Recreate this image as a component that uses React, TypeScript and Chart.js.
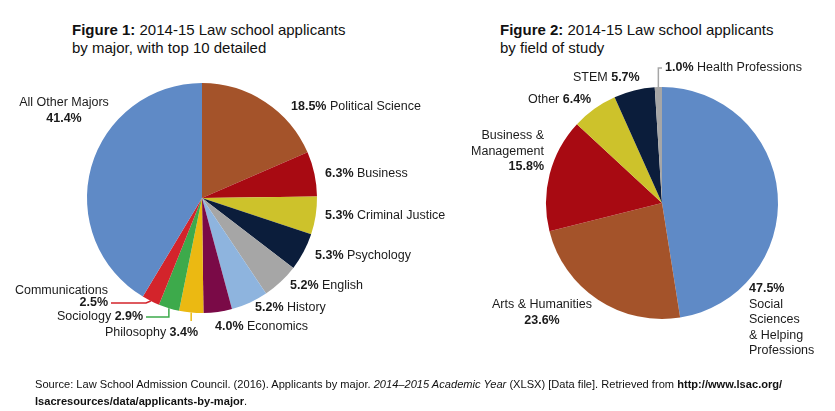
import React, { useEffect, useRef } from "react";
import { Chart, registerables } from "chart.js";
Chart.register(...registerables);

// ---------- DATA ----------
const majorNames = [
  "Political Science", "Business", "Criminal Justice", "Psychology", "English",
  "History", "Economics", "Philosophy", "Sociology", "Communications", "All Other Majors",
];
const majorValues = [18.5, 6.3, 5.3, 5.3, 5.2, 5.2, 4.0, 3.4, 2.9, 2.5, 41.4];

const fieldNames = [
  "Social Sciences & Helping Professions", "Arts & Humanities", "Business & Management",
  "Other", "STEM", "Health Professions",
];
const fieldValues = [47.5, 23.6, 15.8, 6.4, 5.7, 1.0];

// ---------- STYLES ----------
const majorColors = [
  "#A4532A", "#A80A12", "#CDC22B", "#0B1D3B", "#A6A6A6",
  "#8EB4DE", "#7A0A47", "#EBB912", "#3DAA4B", "#D3242B", "#5F8AC6",
];
const fieldColors = ["#5F8AC6", "#A4532A", "#A80A12", "#CDC22B", "#0B1D3B", "#A6A6A6"];

const FONT = "'Liberation Sans', Arial, sans-serif";
const LABEL_SIZE = 12.5;
const TEXT_COLOR = "#1b1b1b";

type Pt = { x?: number; y?: number };
type Layout = {
  kind: "pctFirst" | "nameFirst" | "stack";
  x: number;
  y: number;
  align: "left" | "right" | "center";
  lh?: number;
  nameLines?: string[];
  leader?: Pt[];
};

const majorLayout: Layout[] = [
  { kind: "pctFirst", x: 291, y: 107, align: "left" },
  { kind: "pctFirst", x: 325, y: 174, align: "left" },
  { kind: "pctFirst", x: 325, y: 216, align: "left" },
  { kind: "pctFirst", x: 315, y: 256, align: "left" },
  { kind: "pctFirst", x: 290, y: 286, align: "left" },
  { kind: "pctFirst", x: 255, y: 308, align: "left" },
  { kind: "pctFirst", x: 215, y: 327, align: "left" },
  { kind: "nameFirst", x: 105, y: 333, align: "left", leader: [{ y: 321 }] },
  { kind: "nameFirst", x: 57, y: 317, align: "left", leader: [{ y: 317 }, { x: 146 }] },
  { kind: "stack", x: 108, y: 291, align: "right", lh: 12, leader: [{ x: 146, y: 303 }, { x: 111 }] },
  { kind: "stack", x: 64, y: 103, align: "center", lh: 16 },
];

const fieldLayout: Layout[] = [
  { kind: "stack", x: 749, y: 289, align: "left", lh: 15.5, nameLines: ["Social", "Sciences", "& Helping", "Professions"] },
  { kind: "stack", x: 542, y: 305, align: "center", lh: 16 },
  { kind: "stack", x: 544, y: 136, align: "right", lh: 15.5, nameLines: ["Business &", "Management"] },
  { kind: "nameFirst", x: 528, y: 100, align: "left" },
  { kind: "nameFirst", x: 573, y: 78, align: "left" },
  { kind: "pctFirst", x: 665, y: 68, align: "left", leader: [{ y: 68 }, { x: 662 }] },
];

type Run = { t: string; b: boolean };

function buildLines(name: string, value: number, lay: Layout, pctOnTop: boolean): Run[][] {
  const pct = value.toFixed(1) + "%";
  if (lay.kind === "pctFirst") return [[{ t: pct, b: true }, { t: " " + name, b: false }]];
  if (lay.kind === "nameFirst") return [[{ t: name + " ", b: false }, { t: pct, b: true }]];
  const names = (lay.nameLines || [name]).map((n) => [{ t: n, b: false }]);
  return pctOnTop ? [[{ t: pct, b: true }], ...names] : [...names, [{ t: pct, b: true }]];
}

function drawRuns(ctx: CanvasRenderingContext2D, runs: Run[], x: number, y: number, align: string) {
  const widths = runs.map((r) => {
    ctx.font = `${r.b ? "bold " : ""}${LABEL_SIZE}px ${FONT}`;
    return ctx.measureText(r.t).width;
  });
  const total = widths.reduce((a, b) => a + b, 0);
  let sx = align === "left" ? x : align === "right" ? x - total : x - total / 2;
  ctx.textAlign = "left";
  ctx.textBaseline = "middle";
  ctx.fillStyle = TEXT_COLOR;
  runs.forEach((r, i) => {
    ctx.font = `${r.b ? "bold " : ""}${LABEL_SIZE}px ${FONT}`;
    ctx.fillText(r.t, sx, y);
    sx += widths[i];
  });
}

function makeLabelPlugin(names: string[], values: number[], layout: Layout[], colors: string[], pctOnTopIdx: number[]) {
  return {
    id: "sliceLabels",
    afterDraw(chart: any) {
      const ctx: CanvasRenderingContext2D = chart.ctx;
      const meta = chart.getDatasetMeta(0);
      ctx.save();
      meta.data.forEach((arc: any, i: number) => {
        const lay = layout[i];
        if (!lay) return;
        const { x, y, startAngle, endAngle, outerRadius } = arc.getProps(
          ["x", "y", "startAngle", "endAngle", "outerRadius"], true
        );
        if (lay.leader) {
          const mid = (startAngle + endAngle) / 2;
          let px = x + Math.cos(mid) * outerRadius;
          let py = y + Math.sin(mid) * outerRadius;
          ctx.beginPath();
          ctx.moveTo(px, py);
          lay.leader.forEach((p) => {
            px = p.x !== undefined ? p.x : px;
            py = p.y !== undefined ? p.y : py;
            ctx.lineTo(px, py);
          });
          ctx.strokeStyle = colors[i];
          ctx.lineWidth = 1.5;
          ctx.stroke();
        }
        const lines = buildLines(names[i], values[i], lay, pctOnTopIdx.includes(i));
        const lh = lay.lh || 16;
        lines.forEach((runs, li) => drawRuns(ctx, runs, lay.x, lay.y + li * lh, lay.align));
      });
      ctx.restore();
    },
  };
}

function PieCanvas(props: {
  names: string[]; values: number[]; colors: string[]; layout: Layout[];
  padding: { left: number; right: number; top: number; bottom: number }; pctOnTop: number[];
}) {
  const ref = useRef<HTMLCanvasElement | null>(null);
  useEffect(() => {
    if (!ref.current) return;
    const chart = new Chart(ref.current, {
      type: "pie",
      data: {
        labels: props.names,
        datasets: [{ data: props.values, backgroundColor: props.colors, borderWidth: 0 }],
      },
      options: {
        animation: false,
        responsive: false,
        events: [],
        layout: { padding: props.padding },
        plugins: { legend: { display: false }, title: { display: false }, tooltip: { enabled: false } },
      },
      plugins: [makeLabelPlugin(props.names, props.values, props.layout, props.colors, props.pctOnTop)],
    } as any);
    return () => chart.destroy();
  }, []);
  return (
    <canvas
      ref={ref}
      width={835}
      height={411}
      style={{ position: "absolute", left: 0, top: 0, width: 835, height: 411 }}
    />
  );
}

const titleStyle: React.CSSProperties = {
  position: "absolute",
  top: 21,
  fontFamily: FONT,
  fontSize: 15,
  lineHeight: "18px",
  color: "#111",
  whiteSpace: "nowrap",
};

export default function App() {
  return (
    <div style={{ position: "absolute", left: 0, top: 0, width: 835, height: 411, background: "#fff", overflow: "hidden" }}>
      <div style={{ ...titleStyle, left: 72 }}>
        <b>Figure 1:</b> 2014-15 Law school applicants<br />by major, with top 10 detailed
      </div>
      <div style={{ ...titleStyle, left: 500 }}>
        <b>Figure 2:</b> 2014-15 Law school applicants<br />by field of study
      </div>
      <PieCanvas
        names={majorNames}
        values={majorValues}
        colors={majorColors}
        layout={majorLayout}
        padding={{ left: 87, right: 518, top: 83, bottom: 98 }}
        pctOnTop={[]}
      />
      <PieCanvas
        names={fieldNames}
        values={fieldValues}
        colors={fieldColors}
        layout={fieldLayout}
        padding={{ left: 546, right: 57, top: 87, bottom: 92 }}
        pctOnTop={[0]}
      />
      <div
        style={{
          position: "absolute",
          left: 35,
          top: 376,
          fontFamily: FONT,
          fontSize: 11.5,
          lineHeight: "17px",
          color: "#111",
          whiteSpace: "nowrap",
          transform: "scaleX(0.965)",
          transformOrigin: "left top",
        }}
      >
        Source: Law School Admission Council. (2016). Applicants by major. <i>2014–2015 Academic Year</i> (XLSX) [Data file]. Retrieved from <b>http://www.lsac.org/</b>
        <br />
        <b>lsacresources/data/applicants-by-major</b>.
      </div>
    </div>
  );
}
